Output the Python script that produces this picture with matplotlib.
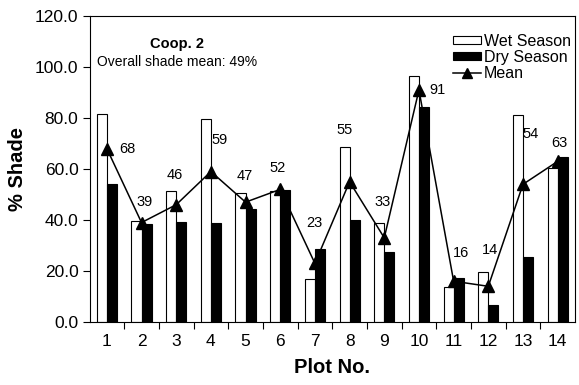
import matplotlib

matplotlib.use("Agg")
import matplotlib.pyplot as plt
import numpy as np

plt.rcParams["font.family"] = ["Liberation Sans", "DejaVu Sans"]

# values
plots = list(range(1, 15))
wet_season = [81.5, 39.6, 51.3, 79.6, 50.5, 51.3, 16.7, 68.5, 38.7, 96.6, 13.6, 19.7, 81.3, 60.3]
dry_season = [54.1, 38.6, 39.2, 38.8, 44.4, 51.6, 28.5, 39.9, 27.6, 84.2, 17.1, 6.5, 25.6, 64.8]
mean_shade = [68, 39, 46, 59, 47, 52, 23, 55, 33, 91, 16, 14, 54, 63]
y_ticks = [0, 20, 40, 60, 80, 100, 120]

# label offsets in pixels (dx, dy) relative to the mean markers
label_offsets = [(21, 0), (3, 21), (-1, 30), (9, 32), (-1, 26), (-3, 21), (-1, 40),
                 (-5, 52), (-2, 36), (19, 0), (7, 28), (2, 36), (8, 50), (2, 18)]

fig = plt.figure(figsize=(5.79, 3.85), dpi=100)
ax = fig.add_axes([89.5 / 579, 63 / 385, (575 - 89.5) / 579, (322 - 16) / 385])

x = np.array(plots, dtype=float)
width = 0.29
wet = ax.bar(x - width / 2, wet_season, width, color="white", edgecolor="black",
             linewidth=0.8, label="Wet Season", zorder=2)
dry = ax.bar(x + width / 2, dry_season, width, color="black", edgecolor="black",
             linewidth=0.8, label="Dry Season", zorder=2)
(mean_line,) = ax.plot(x, mean_shade, color="black", linewidth=1.1, marker="^",
                       markersize=8.5, label="Mean", zorder=3)

for xi, value, (dx, dy) in zip(x, mean_shade, label_offsets):
    ax.annotate(str(value), (xi, value), xytext=(dx, dy), textcoords="offset pixels",
                ha="center", va="center", fontsize=10.5, zorder=4)

ax.set_xlim(0.5, 14.5)
ax.set_ylim(0, 120)
ax.set_yticks(y_ticks)
ax.set_yticklabels([f"{t:.1f}" for t in y_ticks], fontsize=12.5)
ax.set_xticks(x)
ax.set_xticklabels([str(p) for p in plots], fontsize=12.5)
ax.set_xticks(np.arange(1.5, 14.5, 1.0), minor=True)
ax.tick_params(axis="x", which="major", length=0, pad=9)
ax.tick_params(axis="x", which="minor", length=5, direction="out", width=0.8)
ax.tick_params(axis="y", length=5, direction="out", width=0.8, pad=3)
for spine in ax.spines.values():
    spine.set_linewidth(0.8)

ax.set_xlabel("Plot No.", fontsize=14.5, fontweight="bold", labelpad=6)
ax.set_ylabel("% Shade", fontsize=14.5, fontweight="bold", labelpad=6)

ax.text(0.18, 0.91, "Coop. 2", transform=ax.transAxes, ha="center", va="center",
        fontsize=10.5, fontweight="bold")
ax.text(0.18, 0.85, "Overall shade mean: 49%", transform=ax.transAxes,
        ha="center", va="center", fontsize=10)

ax.legend([wet, dry, mean_line], ["Wet Season", "Dry Season", "Mean"],
          loc="upper right", bbox_to_anchor=(1.012, 0.972), frameon=False,
          fontsize=11.5, handlelength=1.75, handleheight=0.4, labelspacing=0.05,
          handletextpad=0.2, borderaxespad=0.2, numpoints=1, markerscale=0.8)

fig.savefig("out.png", dpi=100)
